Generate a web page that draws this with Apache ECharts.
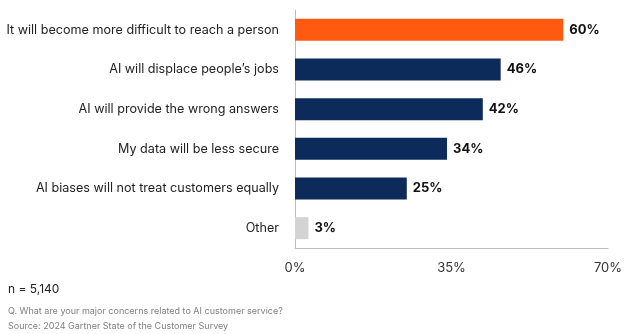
<!DOCTYPE html>
<html><head><meta charset="utf-8">
<script src="https://cdn.jsdelivr.net/npm/echarts@6/dist/echarts.min.js"></script>
<style>html,body{margin:0;padding:0;background:#fff}#c{width:640px;height:334px}</style>
</head><body><div id="c"></div>
<script>
const categories = ["It will become more difficult to reach a person","AI will displace people’s jobs","AI will provide the wrong answers","My data will be less secure","AI biases will not treat customers equally","Other"];
const values = [60, 46, 42, 34, 25, 3];
const barColors = ["#FF5A10", "#0C2A5A", "#0C2A5A", "#0C2A5A", "#0C2A5A", "#D3D3D3"];
const xTicks = [0, 35, 70];
const sampleNote = "n = 5,140";
const questionNote = "Q. What are your major concerns related to AI customer service?";
const sourceNote = "Source: 2024 Gartner State of the Customer Survey";

const font = "Inter, 'Noto Sans', sans-serif";
const chart = echarts.init(document.getElementById('c'), null, {renderer: 'canvas'});
chart.setOption({
  animation: false,
  grid: {left: 295, right: 32, top: 10, bottom: 86, containLabel: false, outerBoundsMode: 'none'},
  xAxis: {
    type: 'value', min: 0, max: 70, interval: 35,
    axisLine: {show: true, lineStyle: {color: '#bdbdbd', width: 1}},
    axisTick: {show: false},
    splitLine: {show: false},
    axisLabel: {formatter: v => xTicks.includes(v) ? v + '%' : '', color: '#333', fontSize: 13, fontFamily: font, margin: 14}
  },
  yAxis: {
    type: 'category', data: categories, inverse: true,
    axisLine: {show: true, lineStyle: {color: '#bdbdbd', width: 1}},
    axisTick: {show: false},
    axisLabel: {color: '#222', fontSize: 12.6, fontFamily: font, margin: 16}
  },
  series: [{
    type: 'bar', barWidth: 22,
    data: values.map((v, i) => ({value: v, itemStyle: {color: barColors[i]}})),
    label: {show: true, position: 'right', distance: 6, formatter: p => p.value + '%', color: '#111', fontWeight: 'bold', fontSize: 13, fontFamily: font}
  }],
  graphic: [
    {type: 'text', left: 8, top: 283, style: {text: sampleNote, fill: '#222', font: '12px ' + font}},
    {type: 'text', left: 8, top: 307, style: {text: questionNote, fill: '#808080', font: '9px ' + font}},
    {type: 'text', left: 8, top: 322, style: {text: sourceNote, fill: '#808080', font: '9px ' + font}}
  ]
});
</script></body></html>
